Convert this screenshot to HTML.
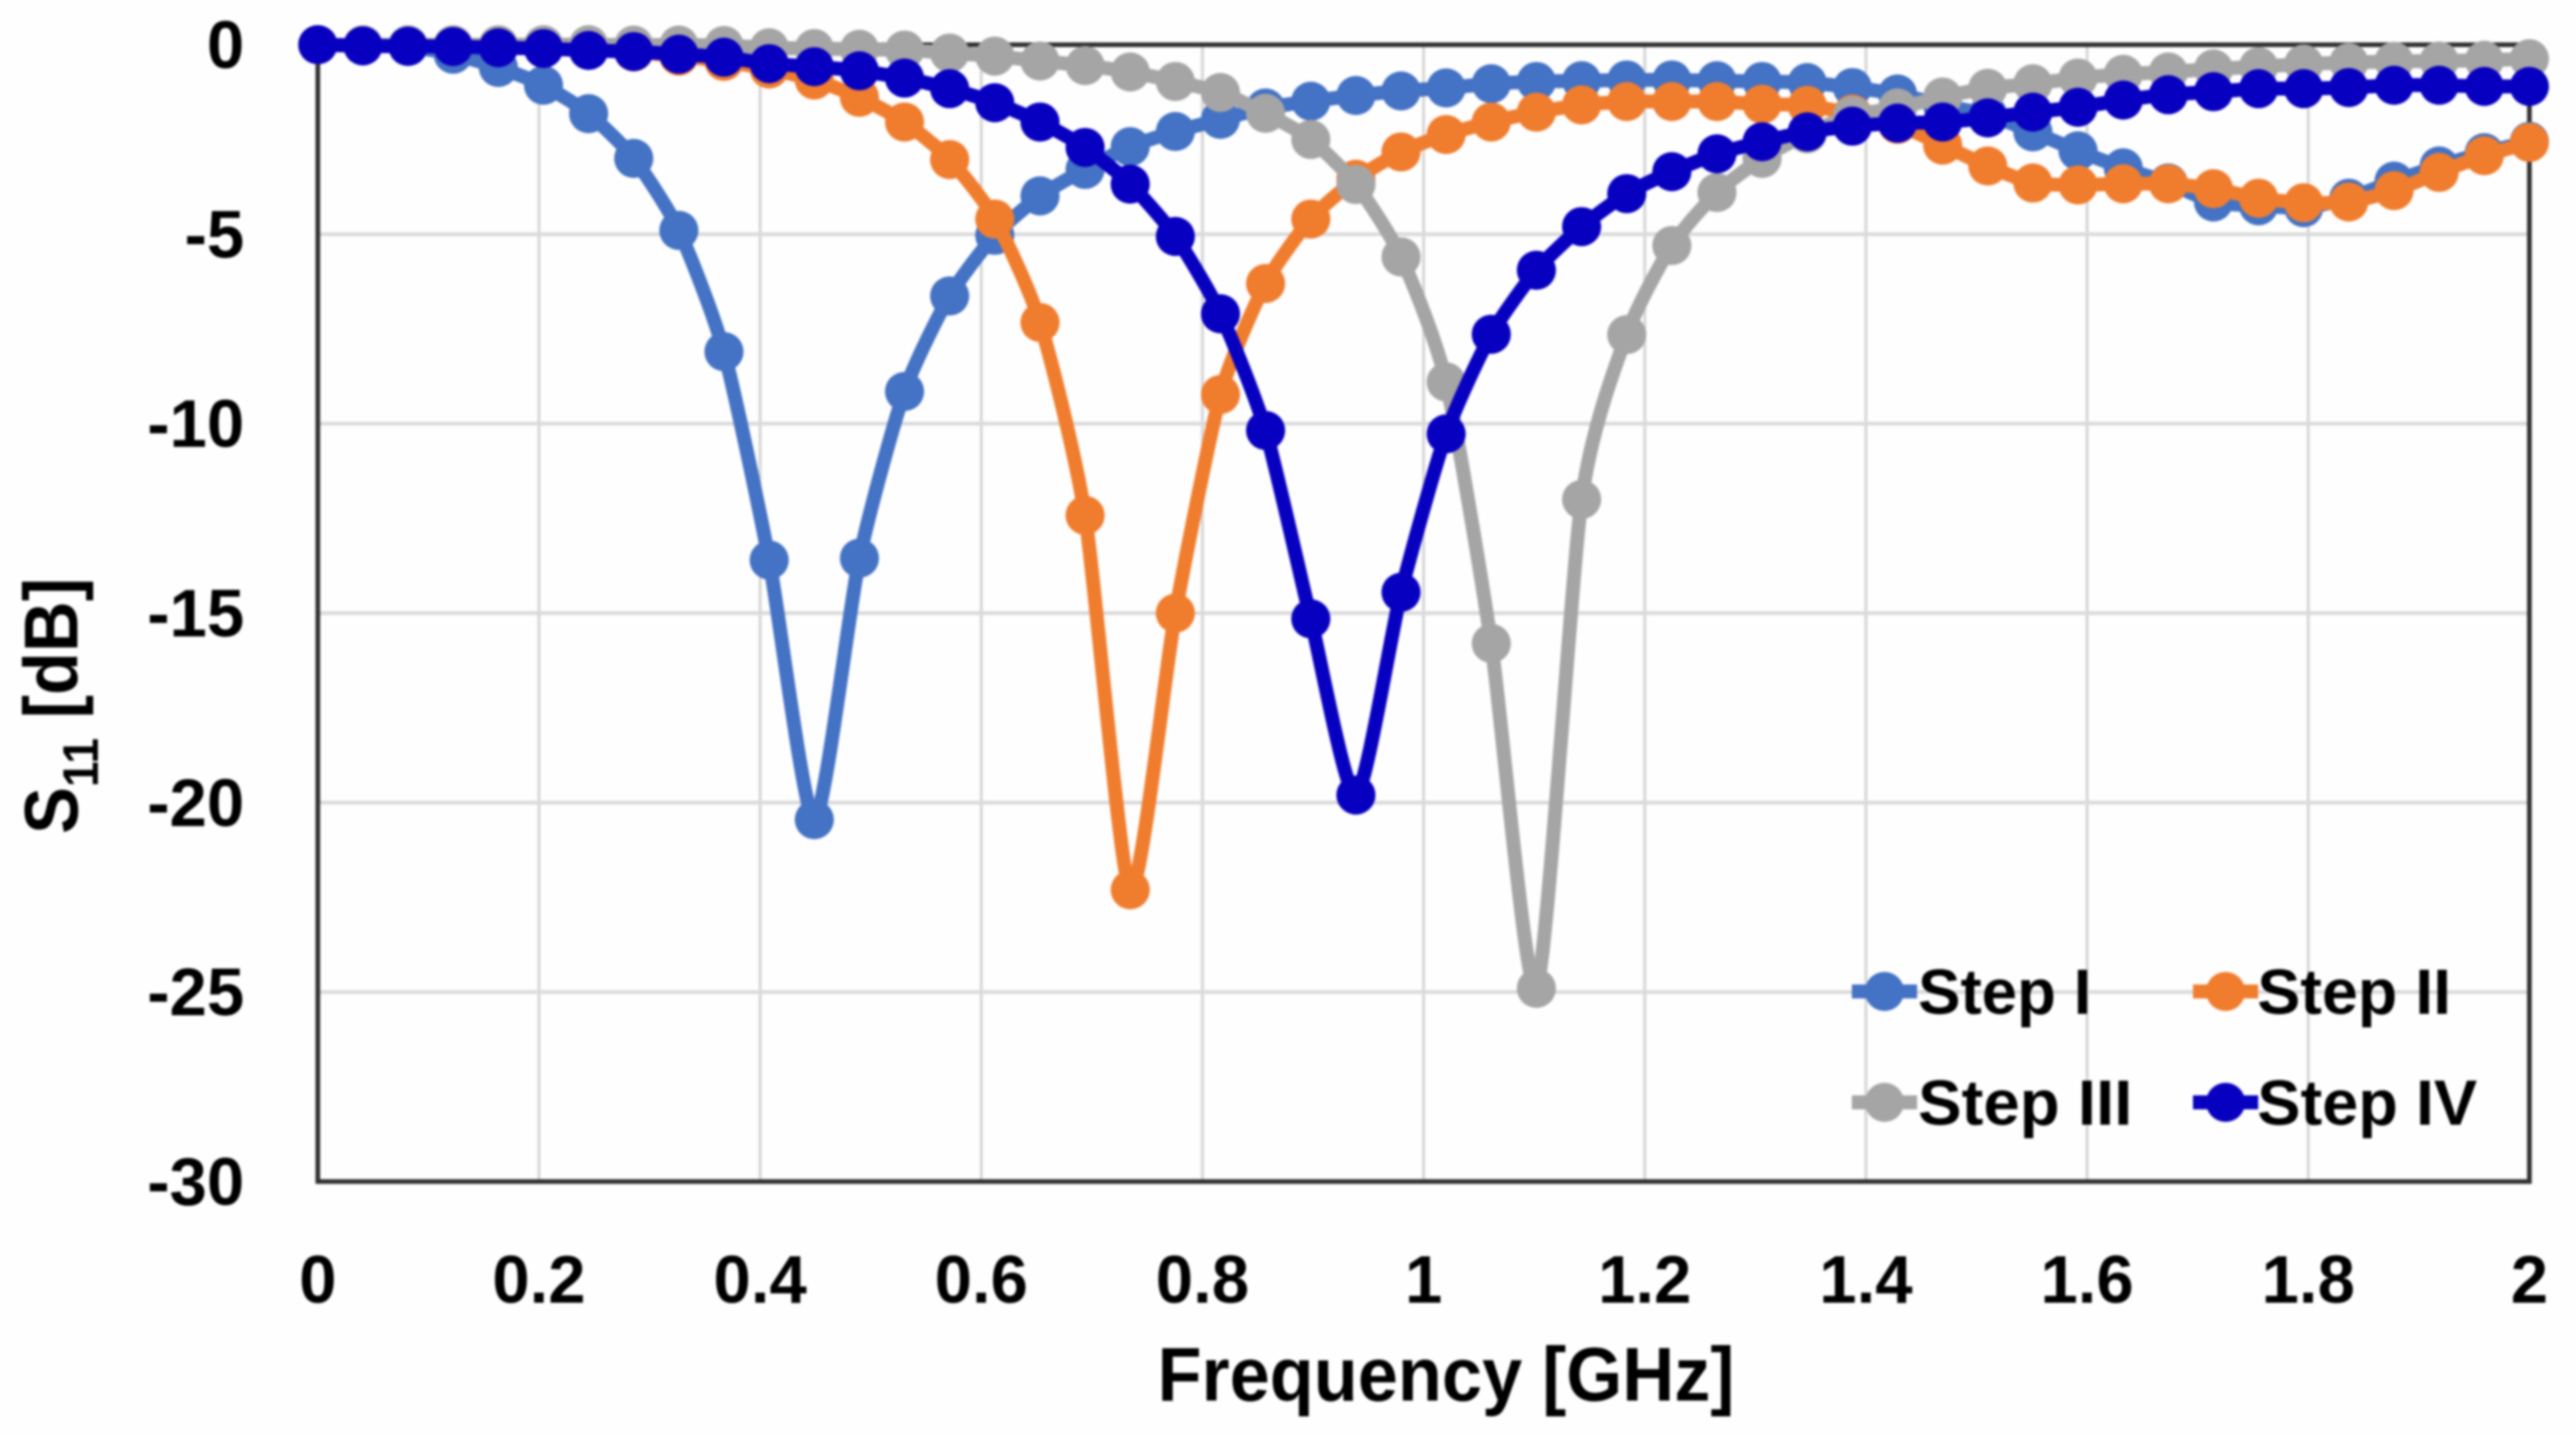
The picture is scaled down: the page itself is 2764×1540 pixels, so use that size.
<!DOCTYPE html>
<html>
<head>
<meta charset="utf-8">
<title>S11 vs Frequency</title>
<style>
html,body{margin:0;padding:0;background:#fefefe;}
svg{display:block;filter:blur(1.3px);}
text{font-family:"Liberation Sans",sans-serif;font-weight:bold;fill:#000;}
</style>
</head>
<body>
<svg id="chart" xmlns="http://www.w3.org/2000/svg" width="2764" height="1540" viewBox="0 0 2764 1540">
  <rect x="0" y="0" width="2764" height="1540" fill="#fefefe"/>
  <g id="grid"></g>
  <rect x="341" y="48" width="2373" height="1220" fill="none" stroke="#303030" stroke-width="5"/>
  <g id="ticks"></g>
  <g id="series"></g>
  <g id="legend"></g>
  <text x="1242" y="1503" font-size="82" textLength="619" lengthAdjust="spacingAndGlyphs">Frequency [GHz]</text>
  <text transform="translate(83,895) rotate(-90)" x="0" y="0" font-size="82" textLength="275" lengthAdjust="spacingAndGlyphs">S<tspan font-size="54" dy="22">11</tspan><tspan dy="-22"> [dB]</tspan></text>
</svg>
<script>
const frequencies = [0,.0408,.0816,.1224,.1633,.2041,.2449,.2857,.3265,.3673,.4082,.449,.4898,.5306,.5714,.6122,.6531,.6939,.7347,.7755,.8163,.8571,.898,.9388,.9796,1.0204,1.0612,1.102,1.1429,1.1837,1.2245,1.2653,1.3061,1.3469,1.3878,1.4286,1.4694,1.5102,1.551,1.5918,1.6327,1.6735,1.7143,1.7551,1.7959,1.8367,1.8776,1.9184,1.9592,2];
const stepI = [0,-.02,-.05,-.25,-.6,-1.07,-1.82,-3.0,-4.9,-8.1,-13.6,-20.45,-13.55,-9.15,-6.63,-5.03,-3.99,-3.29,-2.69,-2.29,-1.97,-1.67,-1.49,-1.34,-1.22,-1.14,-1.03,-.97,-.95,-.93,-.93,-.95,-.97,-1.0,-1.13,-1.3,-1.6,-1.85,-2.3,-2.8,-3.25,-3.65,-4.15,-4.25,-4.3,-4.05,-3.6,-3.2,-2.85,-2.55];
const stepII = [0,-.01,-.02,-.04,-.07,-.1,-.14,-.19,-.3,-.44,-.64,-.93,-1.39,-2.04,-3.03,-4.6,-7.33,-12.42,-22.3,-15.0,-9.23,-6.3,-4.6,-3.55,-2.83,-2.37,-2.04,-1.78,-1.59,-1.5,-1.5,-1.5,-1.57,-1.6,-1.83,-2.1,-2.65,-3.2,-3.65,-3.7,-3.67,-3.67,-3.8,-4.05,-4.17,-4.15,-3.85,-3.37,-2.93,-2.58];
const stepIII = [0,0,0,0,0,0,0,-.01,-.01,-.02,-.08,-.1,-.12,-.14,-.22,-.3,-.43,-.55,-.72,-.97,-1.26,-1.81,-2.5,-3.69,-5.6,-8.9,-15.8,-24.9,-12.0,-7.65,-5.3,-3.9,-3.0,-2.35,-1.87,-1.67,-1.38,-1.15,-1.03,-.88,-.78,-.72,-.64,-.58,-.51,-.47,-.44,-.43,-.41,-.37];
const stepIV = [0,-.03,-.04,-.05,-.08,-.1,-.15,-.18,-.25,-.33,-.5,-.58,-.69,-.88,-1.16,-1.53,-2.04,-2.71,-3.68,-5.06,-7.1,-10.18,-15.15,-19.8,-14.45,-10.27,-7.64,-5.95,-4.8,-3.93,-3.35,-2.88,-2.56,-2.3,-2.15,-2.07,-2.04,-1.93,-1.78,-1.65,-1.46,-1.32,-1.24,-1.16,-1.16,-1.13,-1.07,-1.07,-1.1,-1.1];
const xTicks = [0,0.2,0.4,0.6,0.8,1,1.2,1.4,1.6,1.8,2];
const yTicks = [0,-5,-10,-15,-20,-25,-30];

const SVGNS = 'http://www.w3.org/2000/svg';
function X(f){ return 341 + (f - 0) * (2373 / 2); }
function Y(v){ return 48 - v * (1220 / 30); }
function mk(tag, parent, attrs){
  const el = document.createElementNS(SVGNS, tag);
  for (const k in attrs) el.setAttribute(k, attrs[k]);
  parent.appendChild(el);
  return el;
}
const gridG = document.getElementById('grid');
const tickG = document.getElementById('ticks');
const seriesG = document.getElementById('series');
const legendG = document.getElementById('legend');

xTicks.forEach(function(t){
  const line = mk('line', gridG, {x1:X(t), x2:X(t), y1:Y(0), y2:Y(-30), stroke:'#d4d4d4', 'stroke-width':3});
  
  
  const label = mk('text', tickG, {x:X(t), y:1398, 'font-size':72, 'text-anchor':'middle'});
  
  
  label.textContent = String(t);
});
yTicks.forEach(function(t){
  const line = mk('line', gridG, {x1:X(0), x2:X(2), y1:Y(t), y2:Y(t), stroke:'#dadada', 'stroke-width':4});
  
  
  const label = mk('text', tickG, {x:262, y:Y(t) + 25, 'font-size':72, 'text-anchor':'end'});
  
  
  label.textContent = String(t);
});

function smoothPath(xs, ys){
  const k = 9;
  let d = 'M' + X(xs[0]) + ' ' + Y(ys[0]);
  for (let i = 0; i < xs.length - 1; i++){
    const p0x = X(xs[Math.max(i-1,0)]), p0y = Y(ys[Math.max(i-1,0)]);
    const p1x = X(xs[i]), p1y = Y(ys[i]);
    const p2x = X(xs[i+1]), p2y = Y(ys[i+1]);
    const p3x = X(xs[Math.min(i+2,xs.length-1)]), p3y = Y(ys[Math.min(i+2,xs.length-1)]);
    const c1x = p1x + (p2x-p0x)/k, c1y = p1y + (p2y-p0y)/k;
    const c2x = p2x - (p3x-p1x)/k, c2y = p2y - (p3y-p1y)/k;
    d += ' C' + c1x + ' ' + c1y + ' ' + c2x + ' ' + c2y + ' ' + p2x + ' ' + p2y;
  }
  return d;
}
function drawSeries(values, color, slug){
  const g = mk('g', seriesG, {});
  
  
  const path = mk('path', g, {d:smoothPath(frequencies, values), fill:'none', stroke:color, 'stroke-width':15});
  
  
  values.forEach(function(v, i){
    const dot = mk('circle', g, {cx:X(frequencies[i]), cy:Y(v), r:21, fill:color});
    
    
  });
}
drawSeries(stepI, '#4472c4', 'step-i');
drawSeries(stepII, '#f07d2e', 'step-ii');
drawSeries(stepIII, '#a5a5a5', 'step-iii');
drawSeries(stepIV, '#0800c0', 'step-iv');

function legendEntry(cx, cy, tx, ty, tw, color, label, slug){
  const g = mk('g', legendG, {});
  
  
  const l = mk('line', g, {x1:cx-35, x2:cx+35, y1:cy, y2:cy, stroke:color, 'stroke-width':15});
  
  
  const c = mk('circle', g, {cx:cx, cy:cy, r:21, fill:color});
  
  
  const t = mk('text', g, {x:tx, y:ty, 'font-size':69, textLength:tw, lengthAdjust:'spacingAndGlyphs'});
  
  
  t.textContent = label;
}
legendEntry(2022, 1064, 2058, 1088, 186, '#4472c4', 'Step I', 'step-i');
legendEntry(2388, 1064, 2422, 1088, 208, '#f07d2e', 'Step II', 'step-ii');
legendEntry(2022, 1183, 2058, 1207, 230, '#a5a5a5', 'Step III', 'step-iii');
legendEntry(2388, 1183, 2422, 1207, 236, '#0800c0', 'Step IV', 'step-iv');
</script>
</body>
</html>
